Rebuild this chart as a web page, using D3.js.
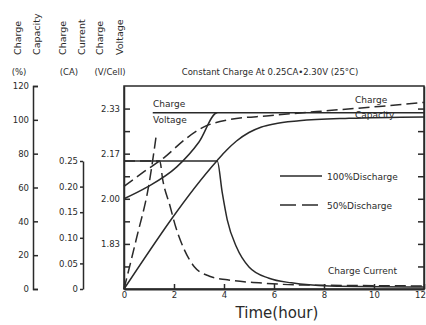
<!DOCTYPE html>
<html>
<head>
<meta charset="utf-8">
<script src="https://cdn.jsdelivr.net/npm/d3@7"></script>
<style>
  body { margin: 0; background: #fff; }
  svg text { font-family: "DejaVu Sans", sans-serif; fill: #2a2a2a; }
</style>
</head>
<body>
<svg id="chart" width="426" height="325"></svg>
<script>
// time in hours, readings
const voltSolid = [[0, 2.0], [0.9, 2.042], [2.1, 2.117], [3.0, 2.21], [3.73, 2.318], [12, 2.318]];
const voltDashed = [[0, 2.046], [0.8, 2.1], [1.63, 2.154], [2.42, 2.218], [3.14, 2.263], [4.2, 2.292], [5.8, 2.307], [8.2, 2.326], [10.2, 2.341], [12, 2.356]];
const capSolid = [[0, 0], [3.73, 76], [4.1, 82], [4.5, 87.5], [5.0, 92.5], [5.5, 95.8], [6.0, 97.6], [7.0, 99.4], [9.0, 100.9], [12, 101.7]];
const capDashed = [[0, 0], [0.5, 30], [1.0, 62], [1.3, 92]];
const curSolid = [[0, 0.25], [3.73, 0.25], [3.93, 0.188], [4.13, 0.135], [4.5, 0.082], [5.0, 0.043], [5.8, 0.021], [6.7, 0.012], [8.2, 0.006], [12, 0.004]];
const curDashed = [[0, 0.25], [1.43, 0.25], [1.55, 0.213], [1.83, 0.164], [2.07, 0.121], [2.42, 0.076], [2.82, 0.043], [3.42, 0.025], [4.13, 0.018], [5.4, 0.012], [7.0, 0.008], [12, 0.006]];
const voltLeader = [[1.15, 2.318], [3.73, 2.318]];

const timeTicks = [0, 2, 4, 6, 8, 10, 12];
const capTicks = [0, 20, 40, 60, 80, 100, 120];
const curTicks = [0, 0.05, 0.10, 0.15, 0.20, 0.25];
const voltTicks = [1.75, 1.8333, 1.9167, 2.0, 2.0833, 2.1667, 2.25, 2.3333];
const voltLabeled = [1.8333, 2.0, 2.1667, 2.3333];

const svg = d3.select("#chart");
const x0 = 124, x1 = 424, yBot = 289, yTop = 86;
const ink = "#2a2a2a";

const x = d3.scaleLinear().domain([0, 12]).range([x0, x1]);
const yV = d3.scaleLinear().domain([1.6667, 2.4167]).range([yBot, yTop]);
const yC = d3.scaleLinear().domain([0, 120]).range([yBot, yTop]);
const yI = d3.scaleLinear().domain([0, 0.25]).range([yBot, 161]);

// headers
const heads = [["Charge", 21], ["Capacity", 40], ["Charge", 66], ["Current", 85], ["Charge", 103], ["Voltage", 123]];
svg.selectAll(".head").data(heads).join("text")
  .attr("transform", d => `translate(${d[1]},55) rotate(-90)`)
  .attr("font-size", 9.5)
  .text(d => d[0]);
const units = [["(%)", 19], ["(CA)", 69], ["(V/Cell)", 110]];
svg.selectAll(".unit").data(units).join("text")
  .attr("x", d => d[1]).attr("y", 75)
  .attr("text-anchor", "middle").attr("font-size", 8.5)
  .text(d => d[0]);

svg.append("text").attr("x", 270).attr("y", 75).attr("text-anchor", "middle")
  .attr("font-size", 8.5).text("Constant Charge At 0.25CA\u20222.30V  (25\u00B0C)");

function styleAxis(g) {
  g.selectAll("path, line").attr("stroke", ink).attr("stroke-width", 1.5);
  g.selectAll("text").attr("font-size", 8.5).attr("fill", ink).style("font-family", "DejaVu Sans");
}

// capacity axis
svg.append("g").attr("transform", "translate(33,0)")
  .call(d3.axisLeft(yC).tickValues(capTicks).tickSizeInner(-5).tickSizeOuter(-5).tickPadding(4))
  .call(styleAxis);

// current axis
svg.append("g").attr("transform", "translate(83,0)")
  .call(d3.axisLeft(yI).tickValues(curTicks).tickSizeInner(3).tickSizeOuter(0).tickPadding(2)
    .tickFormat(d => d === 0 ? "0" : d3.format(".2f")(d)))
  .call(styleAxis);

// plot frame
svg.append("rect").attr("x", x0).attr("y", yTop).attr("width", x1 - x0).attr("height", yBot - yTop)
  .attr("fill", "none").attr("stroke", ink).attr("stroke-width", 1.5);

svg.append("g").attr("transform", `translate(${x0},0)`)
  .call(d3.axisLeft(yV).tickValues(voltTicks).tickSizeInner(-6).tickSizeOuter(0).tickPadding(4)
    .tickFormat(d => voltLabeled.includes(d) ? d.toFixed(2) : ""))
  .call(styleAxis);
svg.append("g").attr("transform", `translate(${x1},0)`)
  .call(d3.axisRight(yV).tickValues(voltTicks).tickSizeInner(-6).tickSizeOuter(0).tickFormat(""))
  .call(styleAxis);

const xAxis = svg.append("g").attr("transform", `translate(0,${yBot})`)
  .call(d3.axisBottom(x).tickValues(timeTicks).tickSizeInner(-5).tickSizeOuter(0).tickPadding(3))
  .call(styleAxis);
xAxis.select(".domain").attr("stroke-width", 2);
xAxis.selectAll(".tick text").filter(d => d === 12).attr("dx", -4);

svg.append("text").attr("x", 277).attr("y", 318).attr("text-anchor", "middle")
  .attr("font-size", 15).text("Time(hour)");

// curves
const curves = [
  [voltSolid, yV, false], [voltDashed, yV, true], [voltLeader, yV, false],
  [capSolid, yC, false], [capDashed, yC, true],
  [curSolid, yI, false], [curDashed, yI, true]
];
svg.append("g").selectAll("path").data(curves).join("path")
  .attr("fill", "none").attr("stroke", ink).attr("stroke-width", 1.5)
  .attr("stroke-dasharray", d => d[2] ? "11,5" : null)
  .attr("d", d => d3.line().x(p => x(p[0])).y(p => d[1](p[1])).curve(d3.curveMonotoneX)(d[0]));

// labels inside plot
const notes = [["Charge", 153, 107], ["Voltage", 153, 123], ["Charge", 355, 103], ["Capacity", 355, 118], ["Charge Current", 328, 274]];
svg.selectAll(".note").data(notes).join("text")
  .attr("x", d => d[1]).attr("y", d => d[2]).attr("font-size", 9)
  .text(d => d[0]);

// legend
const legend = [["100%Discharge", false, 176], ["50%Discharge", true, 205]];
const lg = svg.selectAll(".lg").data(legend).join("g");
lg.append("line").attr("x1", 280).attr("x2", 322).attr("y1", d => d[2]).attr("y2", d => d[2])
  .attr("stroke", ink).attr("stroke-width", 1.5).attr("stroke-dasharray", d => d[1] ? "16,6" : null);
lg.append("text").attr("x", 327).attr("y", d => d[2] + 3.5).attr("font-size", 9).text(d => d[0]);
</script>
</body>
</html>
